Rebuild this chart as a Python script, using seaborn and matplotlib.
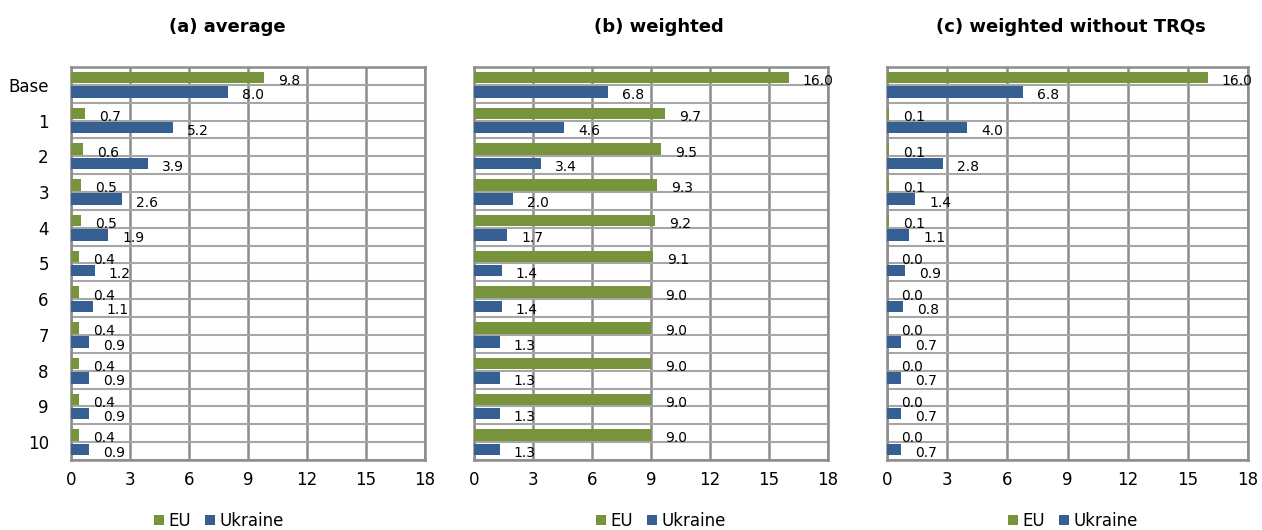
import seaborn as sns
import pandas as pd
import numpy as np
import matplotlib.pyplot as plt

scenarios = ["Base", "1", "2", "3", "4", "5", "6", "7", "8", "9", "10"]
titles = ["(a) average", "(b) weighted", "(c) weighted without TRQs"]

eu_average = [9.8, 0.7, 0.6, 0.5, 0.5, 0.4, 0.4, 0.4, 0.4, 0.4, 0.4]
ua_average = [8.0, 5.2, 3.9, 2.6, 1.9, 1.2, 1.1, 0.9, 0.9, 0.9, 0.9]

eu_weighted = [16.0, 9.7, 9.5, 9.3, 9.2, 9.1, 9.0, 9.0, 9.0, 9.0, 9.0]
ua_weighted = [6.8, 4.6, 3.4, 2.0, 1.7, 1.4, 1.4, 1.3, 1.3, 1.3, 1.3]

eu_no_trq = [16.0, 0.1, 0.1, 0.1, 0.1, 0.0, 0.0, 0.0, 0.0, 0.0, 0.0]
ua_no_trq = [6.8, 4.0, 2.8, 1.4, 1.1, 0.9, 0.8, 0.7, 0.7, 0.7, 0.7]

x_ticks = [0, 3, 6, 9, 12, 15, 18]
colors = {"EU": "#77933C", "Ukraine": "#376092"}

panels = [(eu_average, ua_average), (eu_weighted, ua_weighted), (eu_no_trq, ua_no_trq)]

sns.set_style("white")
plt.rcParams["font.family"] = ["DejaVu Sans"]
plt.rcParams["text.color"] = "black"
plt.rcParams["xtick.color"] = "black"
plt.rcParams["ytick.color"] = "black"

W, H = 1262, 530
fig = plt.figure(figsize=(12.62, 5.30), dpi=100)
lefts = [0.0563, 0.3756, 0.7029]
widths = [0.2805, 0.2805, 0.2860]
title_x = [227, 659, 1071]
legend_x = [219, 661, 1073]

for i, (eu, ua) in enumerate(panels):
    ax = fig.add_axes([lefts[i], 0.1321, widths[i], 0.7415])
    df = pd.DataFrame({
        "scenario": scenarios * 2,
        "value": eu + ua,
        "region": ["EU"] * len(eu) + ["Ukraine"] * len(ua),
    })
    sns.barplot(data=df, y="scenario", x="value", hue="region", orient="h",
                palette=colors, width=0.8, gap=0.2, ax=ax, saturation=1,
                zorder=3, linewidth=0)
    for cont in ax.containers:
        anns = ax.bar_label(cont, fmt="%.1f", padding=10, fontsize=10, color="black")
        for a in anns:
            a.xyann = (10, -2.5)
    ax.set_xlim(0, 18)
    ax.set_xticks(x_ticks)
    ax.set_xticklabels([str(t) for t in x_ticks], fontsize=12)
    ax.set_yticks(np.arange(-0.5, 11, 1.0), minor=True)
    if i == 0:
        ax.set_yticklabels(scenarios, fontsize=12)
    else:
        ax.set_yticklabels([])
    ax.tick_params(axis="both", which="both", length=0)
    ax.tick_params(axis="x", pad=8)
    ax.tick_params(axis="y", pad=16)
    ax.set_axisbelow(True)
    ax.grid(axis="x", which="major", color="#8c8c8c", lw=1.8)
    ax.grid(axis="y", which="both", color="#a6a6a6", lw=1.5)
    ax.set_xlabel("")
    ax.set_ylabel("")
    for s in ax.spines.values():
        s.set_color("#8c8c8c")
        s.set_linewidth(1.8)
    fig.text(title_x[i] / W, 1 - 27 / H, titles[i], fontsize=13,
             fontweight="bold", ha="center", va="center")
    sns.move_legend(ax, "center", bbox_to_anchor=(legend_x[i] / W, 1 - 521 / H),
                    bbox_transform=fig.transFigure, ncol=2,
                    frameon=False, title=None, fontsize=12,
                    handlelength=0.6, handleheight=0.6, handletextpad=0.3,
                    columnspacing=0.8, borderpad=0)

fig.savefig("out.png", dpi=100)
